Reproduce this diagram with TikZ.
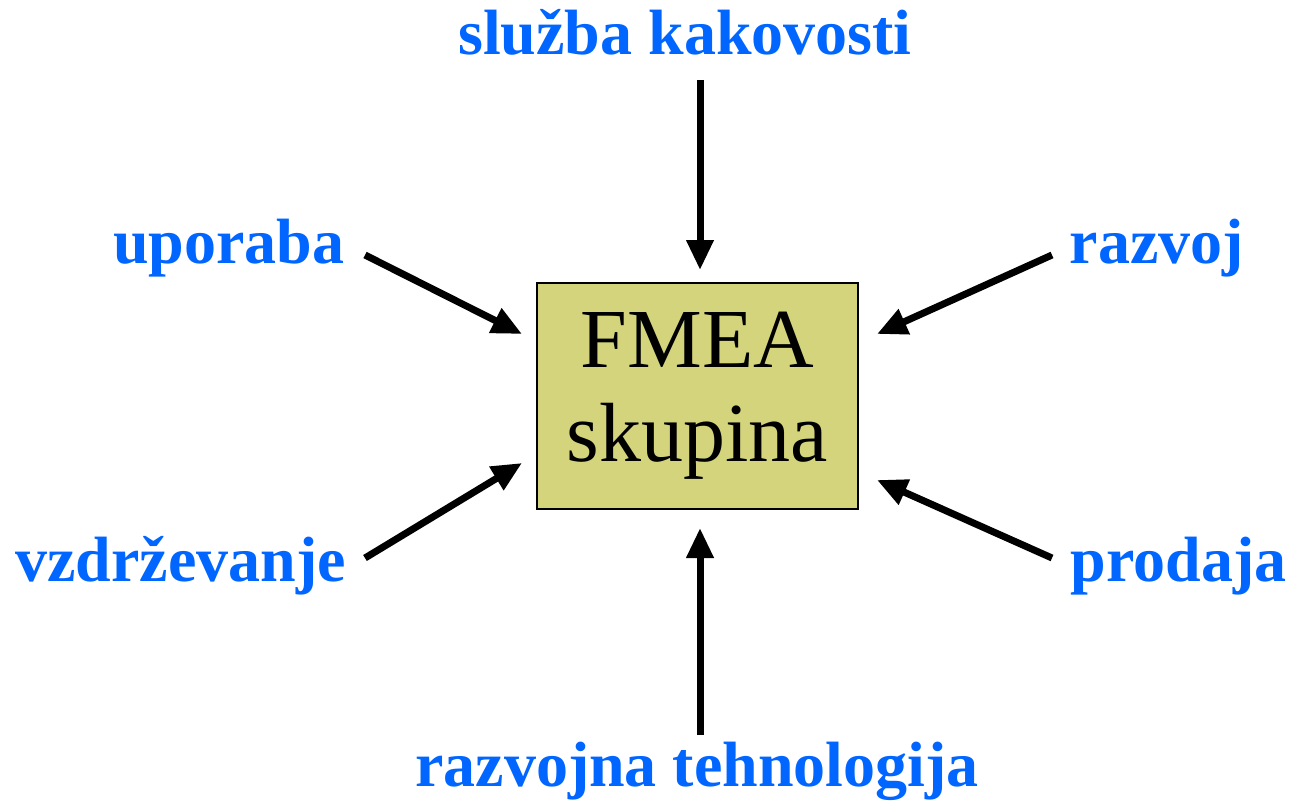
\documentclass[tikz,border=0pt]{standalone}
\usepackage{fontspec}
\setmainfont{Liberation Serif}
\usetikzlibrary{arrows.meta}
\definecolor{lblblue}{HTML}{0066FF}
\definecolor{boxfill}{HTML}{D3D47B}
\tikzset{
  lbl/.style={font=\bfseries\fontsize{64}{70}\selectfont, text=lblblue, anchor=base, inner sep=0pt},
  arr/.style={line width=7pt, -{Triangle[length=30pt,width=26pt]}},
  fmeabox/.style={draw=black, line width=2pt, fill=boxfill, minimum width=321pt, minimum height=226pt, align=center, font=\fontsize{84}{94}\selectfont, inner sep=0pt}
}
\begin{document}
\begin{tikzpicture}[x=1pt,y=-1pt]
\useasboundingbox (0,0) rectangle (1297,805);
\node[fmeabox] (box) at (697.5,396) {FMEA\\skupina};
\node[lbl] (top) at (685,55) {služba kakovosti};
\node[lbl] (upo) at (229,263) {uporaba};
\node[lbl] (raz) at (1157,263) {razvoj};
\node[lbl] (vzd) at (180.5,581) {vzdrževanje};
\node[lbl] (pro) at (1178.5,581) {prodaja};
\node[lbl] (bot) at (697,786) {razvojna tehnologija};
\coordinate (t1) at (700,80);   \coordinate (t2) at (700,270);
\coordinate (u1) at (365,255);  \coordinate (u2) at (522,334);
\coordinate (r1) at (1052,255); \coordinate (r2) at (877,334);
\coordinate (v1) at (365,558);  \coordinate (v2) at (522,463);
\coordinate (p1) at (1052,558); \coordinate (p2) at (877,480);
\coordinate (b1) at (700,735);  \coordinate (b2) at (700,528);
\draw[arr] (t1) -- (t2);
\draw[arr] (u1) -- (u2);
\draw[arr] (r1) -- (r2);
\draw[arr] (v1) -- (v2);
\draw[arr] (p1) -- (p2);
\draw[arr] (b1) -- (b2);
\end{tikzpicture}
\end{document}
